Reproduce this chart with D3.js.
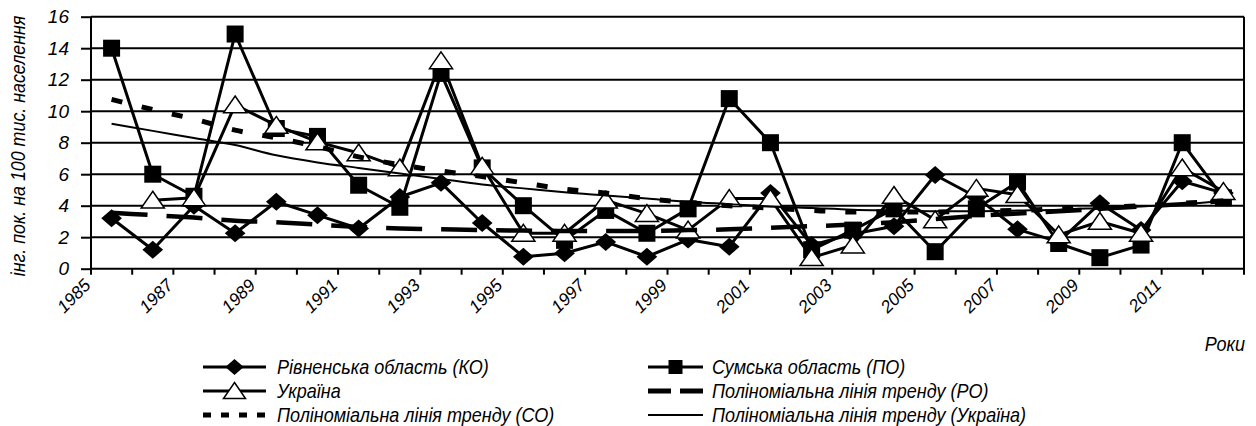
<!DOCTYPE html>
<html>
<head>
<meta charset="utf-8">
<script src="https://cdn.jsdelivr.net/npm/d3@7/dist/d3.min.js"></script>
<style>
body{margin:0;background:#fff}
text{font-family:"Liberation Sans",Arial,sans-serif;font-style:italic;fill:#000}
</style>
</head>
<body>
<div id="chart"></div>
<script>
// categories (labels sit on the left tick of each category)
var years = [1985,1986,1987,1988,1989,1990,1991,1992,1993,1994,1995,1996,1997,1998,
             1999,2000,2001,2002,2003,2004,2005,2006,2007,2008,2009,2010,2011,2012];
var yTicks = [0,2,4,6,8,10,12,14,16];

// series values
var rivne  = [3.2,1.2,4.0,2.25,4.25,3.4,2.55,4.55,5.45,2.9,0.76,0.98,1.7,0.76,
              1.85,1.4,4.8,1.5,2.2,2.7,5.95,4.55,2.5,1.7,4.15,2.45,5.55,4.8];
var sumy   = [14,6.0,4.6,14.9,8.9,8.4,5.3,3.9,12.4,6.4,4.0,1.8,3.7,2.25,
              3.8,10.8,8.0,1.2,2.45,3.8,1.08,3.8,5.5,1.6,0.7,1.5,8.0,4.5];
var ukraine= [null,4.35,4.5,10.4,9.1,8.05,7.35,6.4,13.2,6.5,2.25,2.25,4.35,3.5,
              2.45,4.45,4.45,0.7,1.5,4.65,3.1,5.1,4.7,2.15,3.0,2.25,6.4,4.9];
// polynomial trend lines
var trendCO = [10.75,10.1,9.5,8.8,8.3,7.75,7.1,6.6,6.2,5.85,5.45,5.05,4.8,4.45,
               4.2,4.0,3.85,3.7,3.6,3.6,3.6,3.65,3.7,3.8,3.9,4.0,4.15,4.3];
var trendPO = [3.55,3.4,3.25,3.05,2.95,2.8,2.65,2.55,2.5,2.45,2.42,2.4,2.4,2.4,
               2.45,2.5,2.6,2.7,2.8,2.95,3.15,3.35,3.5,3.65,3.8,3.95,4.1,4.3];
var trendUA = [9.2,8.75,8.3,7.85,7.2,6.75,6.4,6.05,5.7,5.35,5.1,4.85,4.65,4.45,
               4.25,4.1,3.95,3.85,3.75,3.7,3.65,3.65,3.7,3.75,3.85,3.95,4.1,4.3];

var W = 1256, H = 426;
var pLeft = 91, pRight = 1244, pTop = 16.7, pBottom = 268.7;

var svg = d3.select('#chart').append('svg')
    .attr('width', W).attr('height', H);

var x = d3.scaleBand().domain(years).range([pLeft, pRight]).paddingInner(0).paddingOuter(0);
var y = d3.scaleLinear().domain([0, 16]).range([pBottom, pTop]);
var cx = function (i) { return x(years[i]) + x.bandwidth() / 2; };

// horizontal grid
svg.append('g').selectAll('line').data(yTicks.slice(1)).enter().append('line')
    .attr('x1', pLeft).attr('x2', pRight)
    .attr('y1', function (d) { return y(d); }).attr('y2', function (d) { return y(d); })
    .attr('stroke', '#000').attr('stroke-width', 2);
// right border
svg.append('line').attr('x1', pRight).attr('x2', pRight).attr('y1', pTop).attr('y2', pBottom)
    .attr('stroke', '#000').attr('stroke-width', 2);

// y axis
var yAxis = svg.append('g').attr('transform', 'translate(' + pLeft + ',0)')
    .call(d3.axisLeft(y).tickValues(yTicks).tickSize(10).tickPadding(12));
yAxis.selectAll('line,path').attr('stroke', '#000').attr('stroke-width', 2);
yAxis.select('.domain').attr('d', 'M0,' + pTop + 'V' + pBottom);
yAxis.selectAll('text').style('font-size', '19px').style('font-family', null);

// x axis: ticks on category boundaries
var tickPos = years.map(function (d) { return x(d); }).concat([pRight]);
var xg = svg.append('g');
xg.append('line').attr('x1', pLeft - 1).attr('x2', pRight + 1).attr('y1', pBottom).attr('y2', pBottom)
    .attr('stroke', '#000').attr('stroke-width', 2);
xg.selectAll('.tk').data(tickPos).enter().append('line')
    .attr('x1', function (d) { return d; }).attr('x2', function (d) { return d; })
    .attr('y1', pBottom).attr('y2', pBottom + 6)
    .attr('stroke', '#000').attr('stroke-width', 2);
xg.selectAll('.lbl').data(years.filter(function (d, i) { return i % 2 === 0; })).enter().append('text')
    .attr('transform', function (d) { return 'translate(' + (x(d) - 8) + ',' + (pBottom + 9) + ') rotate(-45)'; })
    .attr('text-anchor', 'end').attr('dy', '0.7em')
    .style('font-size', '17.5px')
    .text(function (d) { return d; });

// y title (condensed face emulated with a horizontal squeeze)
svg.append('text')
    .attr('transform', 'translate(25,146) rotate(-90) scale(0.85,1)')
    .attr('text-anchor', 'middle')
    .style('font-size', '21px')
    .text('інг. пок. на 100 тис. населення');

svg.append('text').attr('transform', 'translate(1245,351) scale(0.9,1)').attr('text-anchor', 'end')
    .style('font-size', '20px').text('Роки');

// markers
function diamond(g, px, py, s) {
    g.append('path').attr('d', 'M' + px + ',' + (py - s) + 'L' + (px + s * 1.15) + ',' + py + 'L' + px + ',' + (py + s) + 'L' + (px - s * 1.15) + ',' + py + 'Z')
        .attr('fill', '#000');
}
function square(g, px, py, s) {
    g.append('rect').attr('x', px - s).attr('y', py - s).attr('width', 2 * s).attr('height', 2 * s)
        .attr('fill', '#000');
}
function triangle(g, px, py, s) {
    g.append('path').attr('d', 'M' + px + ',' + (py - s * 0.85) + 'L' + (px + s * 1.1) + ',' + (py + s * 0.75) + 'L' + (px - s * 1.1) + ',' + (py + s * 0.75) + 'Z')
        .attr('fill', '#fff').attr('stroke', '#000').attr('stroke-width', 1.5);
}

var line = d3.line()
    .defined(function (d) { return d != null; })
    .x(function (d, i) { return cx(i); })
    .y(function (d) { return y(d); });

function series(vals, marker, size) {
    var g = svg.append('g');
    g.append('path').datum(vals).attr('d', line)
        .attr('fill', 'none').attr('stroke', '#000').attr('stroke-width', 3).attr('stroke-linejoin', 'round');
    vals.forEach(function (v, i) { if (v != null) marker(g, cx(i), y(v), size); });
}
series(rivne, diamond, 9);
series(sumy, square, 8.5);
series(ukraine, triangle, 10.5);

var curve = d3.line().x(function (d, i) { return cx(i); }).y(function (d) { return y(d); }).curve(d3.curveMonotoneX);
svg.append('path').datum(trendPO).attr('d', curve).attr('fill', 'none').attr('stroke', '#000')
    .attr('stroke-width', 4.5).attr('stroke-dasharray', '36,19');
svg.append('path').datum(trendCO).attr('d', curve).attr('fill', 'none').attr('stroke', '#000')
    .attr('stroke-width', 5).attr('stroke-dasharray', '11,20');
svg.append('path').datum(trendUA).attr('d', curve).attr('fill', 'none').attr('stroke', '#000')
    .attr('stroke-width', 2);

// legend
var legendItems = [
    {label: 'Рівненська область (КО)', col: 0, row: 0, type: 'diamond'},
    {label: 'Україна', col: 0, row: 1, type: 'triangle'},
    {label: 'Поліноміальна лінія тренду (СО)', col: 0, row: 2, type: 'dot'},
    {label: 'Сумська область (ПО)', col: 1, row: 0, type: 'square'},
    {label: 'Поліноміальна лінія тренду (РО)', col: 1, row: 1, type: 'dash'},
    {label: 'Поліноміальна лінія тренду (Україна)', col: 1, row: 2, type: 'solid'}
];
var colX = [[203, 266, 277], [648, 703, 712]];
var rowY = [367, 391, 415];
legendItems.forEach(function (it) {
    var c = colX[it.col], ly = rowY[it.row];
    var g = svg.append('g');
    var ln = g.append('line').attr('x1', c[0]).attr('x2', c[1]).attr('y1', ly).attr('y2', ly).attr('stroke', '#000');
    var mid = (c[0] + c[1]) / 2;
    if (it.type === 'diamond') { ln.attr('stroke-width', 3); diamond(g, mid, ly, 8); }
    if (it.type === 'triangle') { ln.attr('stroke-width', 3); triangle(g, mid, ly, 10); }
    if (it.type === 'square') { ln.attr('stroke-width', 3); square(g, mid, ly, 7); }
    if (it.type === 'dot') { ln.attr('stroke-width', 5).attr('stroke-dasharray', '8,10'); }
    if (it.type === 'dash') { ln.attr('stroke-width', 5).attr('stroke-dasharray', '23,9'); }
    if (it.type === 'solid') { ln.attr('stroke-width', 2); }
    g.append('text').attr('transform', 'translate(' + c[2] + ',' + ly + ') scale(0.9,1)').attr('dy', '0.35em')
        .style('font-size', '20px').text(it.label);
});
</script>
</body>
</html>
